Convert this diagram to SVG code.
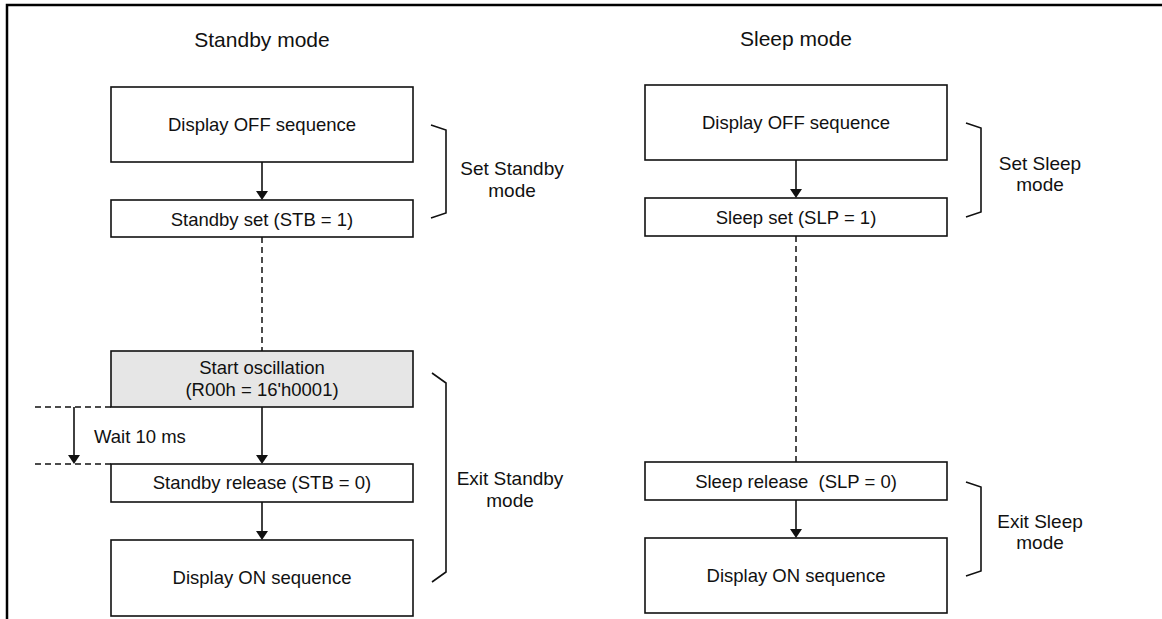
<svg xmlns="http://www.w3.org/2000/svg" width="1162" height="619" viewBox="0 0 1162 619">
<style>
text{font-family:"Liberation Sans",Arial,sans-serif;fill:#111;text-anchor:middle}
.t{font-size:21px}
.b{font-size:18.5px}
.l{font-size:19px}
.box{fill:#fff;stroke:#111;stroke-width:1.6}
.gray{fill:#e6e6e6}
.ln{stroke:#111;stroke-width:1.6;fill:none}
.dash{stroke:#111;stroke-width:1.5;fill:none;stroke-dasharray:6,4}
.frame{stroke:#000;stroke-width:2.5;fill:none}
</style>
<defs>
<marker id="ah" markerWidth="12" markerHeight="9" refX="6" refY="9" orient="auto-start-reverse" markerUnits="userSpaceOnUse" viewBox="0 0 12 9">
<path d="M0,0 L12,0 L6,9 Z" fill="#111"/>
</marker>
</defs>
<g id="frame">
<path class="frame" d="M7,619 V5 H1162"/>
</g>
<g id="titles">
<text class="t" x="262" y="47">Standby mode</text>
<text class="t" x="796" y="46">Sleep mode</text>
</g>
<g id="connectors">
<line class="ln" x1="262" y1="162" x2="262" y2="191"/>
<path d="M256,191 L268,191 L262,200 Z" fill="#111"/>
<line class="dash" x1="262" y1="237" x2="262" y2="351"/>
<line class="ln" x1="262" y1="407" x2="262" y2="455"/>
<path d="M256,455 L268,455 L262,464 Z" fill="#111"/>
<line class="ln" x1="262" y1="502" x2="262" y2="531"/>
<path d="M256,531 L268,531 L262,540 Z" fill="#111"/>
<line class="dash" x1="35" y1="407" x2="111" y2="407"/>
<line class="dash" x1="35" y1="464" x2="111" y2="464"/>
<line class="ln" x1="74" y1="407" x2="74" y2="455"/>
<path d="M68,455 L80,455 L74,464 Z" fill="#111"/>
<line class="ln" x1="796" y1="160" x2="796" y2="189"/>
<path d="M790,189 L802,189 L796,198 Z" fill="#111"/>
<line class="dash" x1="796" y1="236" x2="796" y2="462"/>
<line class="ln" x1="796" y1="500" x2="796" y2="529"/>
<path d="M790,529 L802,529 L796,538 Z" fill="#111"/>
</g>
<g id="brackets">
<path class="ln" d="M431,125 L446,130 V213 L431,218"/>
<path class="ln" d="M432,373 L446,383 V572 L432,582"/>
<path class="ln" d="M966,123 L981,128 V212 L966,217"/>
<path class="ln" d="M966,482 L981,487 V571 L966,576"/>
</g>
<g id="std-off">
<rect class="box" x="111" y="87" width="302" height="75"/>
<text class="b" x="262" y="131">Display OFF sequence</text>
</g>
<g id="std-set">
<rect class="box" x="111" y="200" width="302" height="37"/>
<text class="b" x="262" y="226">Standby set (STB = 1)</text>
</g>
<g id="std-osc">
<rect class="box gray" x="111" y="351" width="302" height="56"/>
<text class="b" x="262" y="374">Start oscillation</text>
<text class="b" x="262" y="396">(R00h = 16'h0001)</text>
</g>
<g id="std-release">
<rect class="box" x="111" y="464" width="302" height="38"/>
<text class="b" x="262" y="489">Standby release (STB = 0)</text>
</g>
<g id="std-on">
<rect class="box" x="111" y="540" width="302" height="76"/>
<text class="b" x="262" y="584">Display ON sequence</text>
</g>
<g id="wait">
<text class="b" x="94" y="443" style="text-anchor:start">Wait 10 ms</text>
</g>
<g id="lbl-set-standby">
<text class="l" x="512" y="175">Set Standby</text>
<text class="l" x="512" y="197">mode</text>
</g>
<g id="lbl-exit-standby">
<text class="l" x="510" y="485">Exit Standby</text>
<text class="l" x="510" y="507">mode</text>
</g>
<g id="slp-off">
<rect class="box" x="645" y="85" width="302" height="75"/>
<text class="b" x="796" y="129">Display OFF sequence</text>
</g>
<g id="slp-set">
<rect class="box" x="645" y="198" width="302" height="38"/>
<text class="b" x="796" y="224">Sleep set (SLP = 1)</text>
</g>
<g id="slp-release">
<rect class="box" x="645" y="462" width="302" height="38"/>
<text class="b" x="796" y="488" xml:space="preserve">Sleep release  (SLP = 0)</text>
</g>
<g id="slp-on">
<rect class="box" x="645" y="538" width="302" height="75"/>
<text class="b" x="796" y="582">Display ON sequence</text>
</g>
<g id="lbl-set-sleep">
<text class="l" x="1040" y="170">Set Sleep</text>
<text class="l" x="1040" y="191">mode</text>
</g>
<g id="lbl-exit-sleep">
<text class="l" x="1040" y="528">Exit Sleep</text>
<text class="l" x="1040" y="549">mode</text>
</g>
</svg>
